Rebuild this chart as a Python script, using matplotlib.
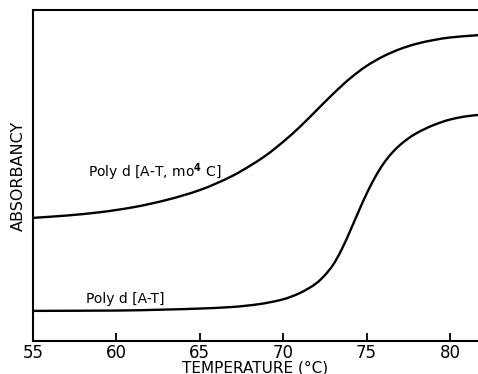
import matplotlib
matplotlib.use("Agg")
import matplotlib.pyplot as plt
from matplotlib.path import Path
from matplotlib.patches import PathPatch
import numpy as np

# Poly d[A-T, mo4C] (upper curve)
temp_mod = [55.0, 57.0, 59.0, 61.0, 63.0, 65.0, 67.0, 68.0, 69.0, 70.0, 71.0, 72.0, 73.0,
            74.0, 75.0, 76.0, 77.0, 78.0, 79.0, 80.0, 81.7]
abs_mod = [0.372, 0.379, 0.389, 0.404, 0.426, 0.456, 0.500, 0.529, 0.562, 0.602, 0.647,
           0.697, 0.747, 0.793, 0.831, 0.860, 0.882, 0.898, 0.909, 0.917, 0.924]

# Poly d[A-T] (lower curve)
temp_at = [55.0, 60.0, 63.0, 65.0, 67.0, 68.5, 70.0, 71.0, 72.0, 72.5, 73.0, 73.5,
           74.0, 74.5, 75.0, 75.5, 76.0, 76.5, 77.0, 77.5, 78.0, 79.0, 80.0, 81.0, 81.7]
abs_at = [0.091, 0.092, 0.095, 0.098, 0.103, 0.111, 0.126, 0.145, 0.175, 0.199, 0.231,
          0.276, 0.331, 0.389, 0.445, 0.494, 0.535, 0.567, 0.592, 0.612, 0.628, 0.652,
          0.669, 0.679, 0.683]

xticks = [55, 60, 65, 70, 75, 80]
xtick_labels = ["55", "60", "65", "70", "75", "80"]


def smooth_path(xs, ys):
    """Monotone cubic (Fritsch-Carlson) through the read points, as a Bezier path."""
    x = np.asarray(xs, float)
    y = np.asarray(ys, float)
    h = np.diff(x)
    d = np.diff(y) / h
    m = np.zeros_like(x)
    m[0], m[-1] = d[0], d[-1]
    for i in range(1, len(x) - 1):
        if d[i - 1] * d[i] <= 0:
            m[i] = 0
        else:
            w1 = 2 * h[i] + h[i - 1]
            w2 = h[i] + 2 * h[i - 1]
            m[i] = (w1 + w2) / (w1 / d[i - 1] + w2 / d[i])
    verts = [(x[0], y[0])]
    codes = [Path.MOVETO]
    for i in range(len(x) - 1):
        verts += [(x[i] + h[i] / 3, y[i] + m[i] * h[i] / 3),
                  (x[i + 1] - h[i] / 3, y[i + 1] - m[i + 1] * h[i] / 3),
                  (x[i + 1], y[i + 1])]
        codes += [Path.CURVE4] * 3
    return Path(verts, codes)


fig = plt.figure(figsize=(4.78, 3.74), dpi=100)
ax = fig.add_axes([33 / 478, 33 / 374, 445 / 478, 331 / 374])

for xs, ys in [(temp_mod, abs_mod), (temp_at, abs_at)]:
    ax.add_patch(PathPatch(smooth_path(xs, ys), facecolor="none",
                           edgecolor="black", lw=1.7, capstyle="round"))

ax.set_xlim(55, 55 + 445 / 16.68)
ax.set_ylim(0, 1)
ax.set_xticks(xticks)
ax.set_xticklabels(xtick_labels, fontsize=12)
ax.set_yticks([])
ax.tick_params(axis="x", direction="in", length=6, width=1.3, pad=2)
ax.spines["right"].set_visible(False)
for s in ["left", "bottom", "top"]:
    ax.spines[s].set_linewidth(1.5)

ax.set_xlabel("TEMPERATURE (°C)", fontsize=11, labelpad=-1)
ax.set_ylabel("ABSORBANCY", fontsize=11.5, labelpad=5)

ax.text(58.3, 0.511, "Poly d [A-T, mo$^{\\mathbf{4}}$ C]", fontsize=10, va="center", ha="left")
ax.text(58.2, 0.127, "Poly d [A-T]", fontsize=10, va="center", ha="left")

fig.savefig("out.png", dpi=100)
